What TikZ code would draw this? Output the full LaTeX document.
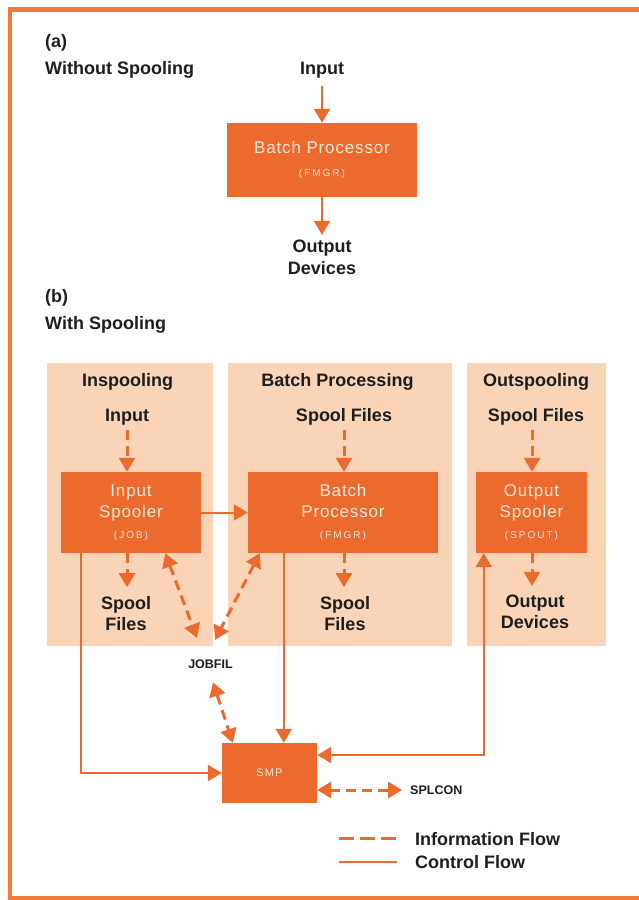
\documentclass[tikz,border=0pt]{standalone}
\usepackage{fontspec}
\setmainfont{Liberation Sans}
\usetikzlibrary{arrows.meta,calc}
\definecolor{org}{HTML}{EC6A2D}
\definecolor{brd}{HTML}{F37A3A}
\definecolor{pan}{HTML}{F9D4B7}
\definecolor{ink}{HTML}{1E1E1E}
\definecolor{wt}{HTML}{FCE9DB}
\newcommand{\smalltag}[1]{{\fontsize{10}{12}\selectfont\addfontfeature{LetterSpace=20}#1}}
\begin{document}
\begin{tikzpicture}[x=1pt,y=-1pt,
  box/.style={fill=org, draw=none, inner sep=0pt, text=wt, align=center,
    font=\fontsize{17}{22.5}\selectfont\addfontfeature{LetterSpace=5}},
  boxt/.style={box, font=\fontsize{17}{21}\selectfont\addfontfeature{LetterSpace=5}},
  panel/.style={fill=pan, draw=none, inner sep=0pt, anchor=north west},
  lbl/.style={text=ink, inner sep=0pt, font=\bfseries\fontsize{18}{21}\selectfont},
  mlbl/.style={lbl, align=center},
  sl/.style={text=ink, inner sep=0pt, font=\bfseries\fontsize{12.5}{14}\selectfont},
  ctl/.style={draw=org, line width=2pt},
  inf/.style={draw=org, line width=3pt, dash pattern=on 10pt off 6pt},
  tip/.style={-{Triangle[length=14pt,width=16pt]}},
  dtip/.style={{Triangle[length=14pt,width=16pt]}-{Triangle[length=14pt,width=16pt]}}
]
\useasboundingbox (0,0) rectangle (639,900);
% frame
\draw[brd, line width=4.5pt] (639,9.5) -- (10,9.5) -- (10,898.5) -- (639,898.5);

% (a)
\node[lbl, anchor=base west] (ta) at (45,47) {(a)};
\node[lbl, anchor=base west] (twos) at (45,74) {Without Spooling};
\node[lbl, anchor=base] (inA) at (322,74) {Input};
\node[box, minimum width=190pt, minimum height=74pt] (bpA) at (322,160) {Batch Processor\\\smalltag{(FMGR)}};
\node[mlbl, font=\bfseries\fontsize{18}{22}\selectfont] (outA) at (322,257.5) {Output\\Devices};
\draw[ctl,tip,shorten <=8pt] (inA.south) -- (inA.south |- bpA.north);
\draw[ctl,tip,shorten >=5pt] (bpA.south) -- (bpA.south |- outA.north);

% (b)
\node[lbl, anchor=base west] (tb) at (45,302) {(b)};
\node[lbl, anchor=base west] (tws) at (45,329) {With Spooling};

\node[panel, minimum width=166pt, minimum height=283pt] (pin) at (47,363) {};
\node[panel, minimum width=224pt, minimum height=283pt] (pbp) at (228,363) {};
\node[panel, minimum width=139pt, minimum height=283pt] (pout) at (467,363) {};

\node[lbl, anchor=base] (hin) at (127.5,386) {Inspooling};
\node[lbl, anchor=base] (hbp) at (337.5,386) {Batch Processing};
\node[lbl, anchor=base] (hout) at (536,386) {Outspooling};
\node[lbl, anchor=base] (inB) at (127,421) {Input};
\node[lbl, anchor=base] (sfin) at (344,421) {Spool Files};
\node[lbl, anchor=base] (sfout) at (536,421) {Spool Files};

\node[boxt, minimum width=140pt, minimum height=81pt] (isp) at (131,512.5) {Input\\Spooler\\\smalltag{(JOB)}};
\node[boxt, minimum width=190pt, minimum height=81pt] (bpB) at (343,512.5) {Batch\\Processor\\\smalltag{(FMGR)}};
\node[boxt, minimum width=111pt, minimum height=81pt] (osp) at (531.5,512.5) {Output\\Spooler\\\smalltag{(SPOUT)}};

\node[mlbl] (sf1) at (126,613.5) {Spool\\Files};
\node[mlbl] (sf2) at (345,613.5) {Spool\\Files};
\node[mlbl] (od) at (535,612) {Output\\Devices};

\coordinate (a3) at ($(sfout.base)+(-4,0)$);
\draw[inf,tip,shorten <=9pt] (inB.base) -- (inB.base |- isp.north);
\draw[inf,tip,shorten <=9pt] (sfin.base) -- (sfin.base |- bpB.north);
\draw[inf,tip,shorten <=9pt] (a3) -- (a3 |- osp.north);
\draw[inf,tip,shorten >=9pt] (inB.base |- isp.south) -- (inB.base |- sf1.north);
\draw[inf,tip,shorten >=9pt] (sfin.base |- bpB.south) -- (sfin.base |- sf2.north);
\draw[inf,tip,shorten >=9pt] (a3 |- osp.south) -- (a3 |- od.north);

\draw[ctl,tip] (isp.east) -- (bpB.west);

% JOBFIL and SMP
\node[sl, anchor=base] (jobfil) at (210.5,668) {JOBFIL};
\coordinate (j1) at (197,638);
\coordinate (j2) at (215,640);
\draw[inf,dtip] ($(isp.south east)+(-36,0)$) -- (j1);
\draw[inf,dtip] ($(bpB.south west)+(12,0)$) -- (j2);

\node[box, font=\fontsize{11}{13}\selectfont\addfontfeature{LetterSpace=10}, minimum width=95pt, minimum height=60pt] (smp) at (269.5,773) {SMP};
\node[sl, anchor=base west] (splcon) at (410,794) {SPLCON};

\draw[inf,dtip] ($(jobfil.south)+(2.5,14)$) -- ($(smp.north west)+(11,0)$);
\draw[inf,dtip] ($(smp.east)+(0,17)$) -- ($(splcon.base west)+(-8,-4)$);

\coordinate (cl) at ($(isp.south west)+(20,0)$);
\draw[ctl,tip] (cl) |- (smp.west);
\coordinate (bd) at ($(bpB.south west)+(36,0)$);
\draw[ctl,tip] (bd) -- (bd |- smp.north);
\coordinate (od1) at ($(osp.south west)+(8,0)$);
\draw[ctl,dtip] ($(smp.east)+(0,-18)$) -| (od1);

% legend
\node[lbl, anchor=base west] (linf) at (415,845) {Information Flow};
\node[lbl, anchor=base west] (lctl) at (415,868) {Control Flow};
\draw[draw=org, line width=3pt, dash pattern=on 15pt off 6pt] ($(linf.base west)+(-76,-7)$) -- ++(58,0);
\draw[draw=org, line width=2.5pt] ($(lctl.base west)+(-76,-6)$) -- ++(58,0);
\end{tikzpicture}
\end{document}
